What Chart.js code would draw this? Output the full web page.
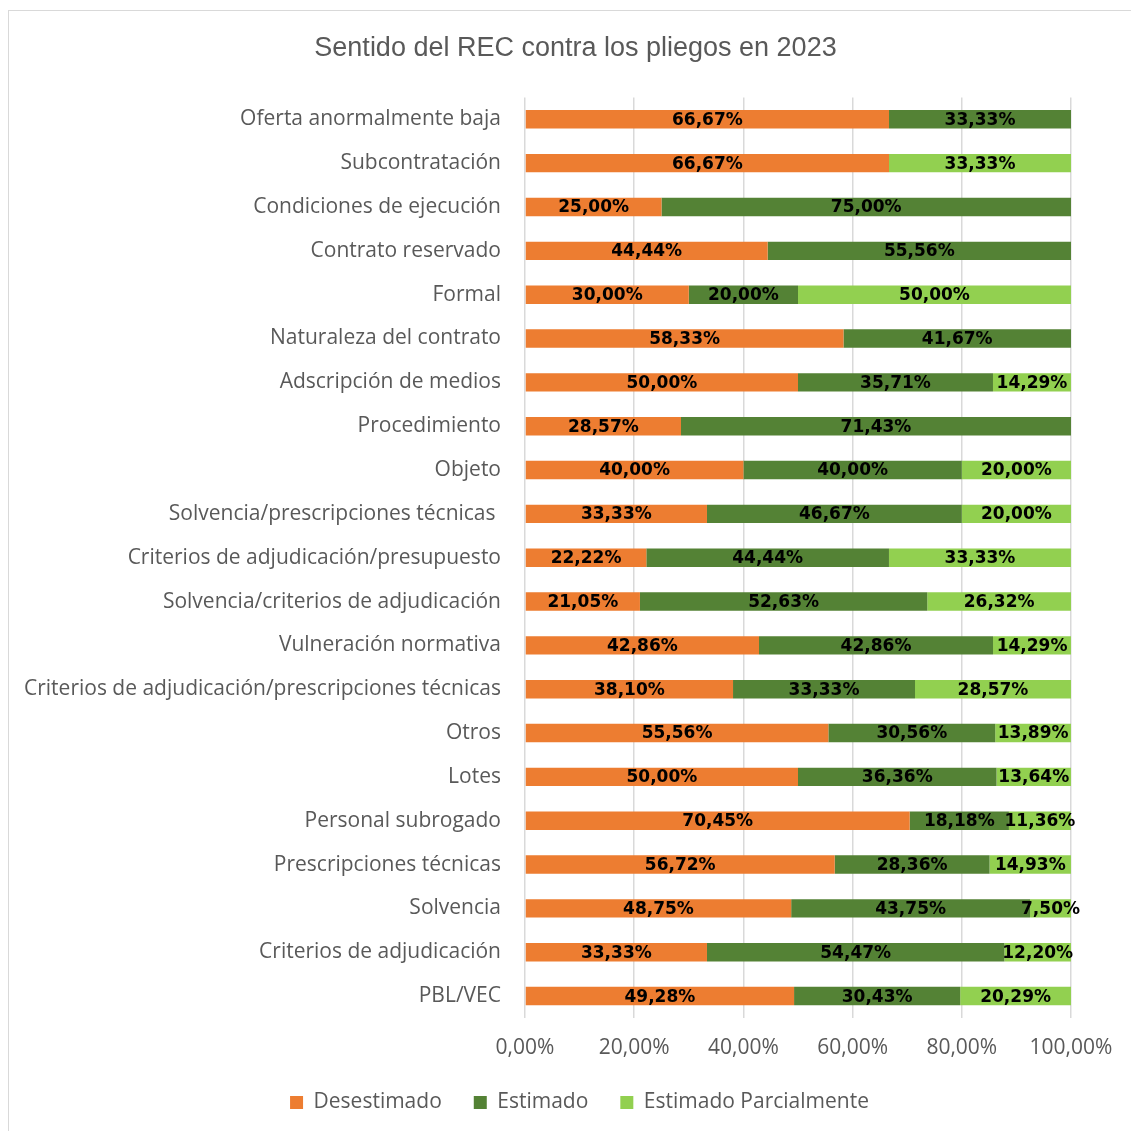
<!DOCTYPE html>
<html>
<head>
<meta charset="utf-8">
<script src="https://cdn.jsdelivr.net/npm/chart.js@4"></script>
<style>
    body { margin: 0; background: #fff; }
    #frame { position: absolute; left: 8px; top: 10px; width: 1200px; height: 1200px; border: 1px solid #d9d9d9; }
    #wrap { position: absolute; left: 0; top: 0; width: 1131px; height: 1131px; }
</style>
</head>
<body>
<div id="frame"></div>
<div id="wrap"><canvas id="recChart"></canvas></div>
<script>
// 数据
const categories = [
    "Oferta anormalmente baja",
    "Subcontratación",
    "Condiciones de ejecución",
    "Contrato reservado",
    "Formal",
    "Naturaleza del contrato",
    "Adscripción de medios",
    "Procedimiento",
    "Objeto",
    "Solvencia/prescripciones técnicas ",
    "Criterios de adjudicación/presupuesto",
    "Solvencia/criterios de adjudicación",
    "Vulneración normativa",
    "Criterios de adjudicación/prescripciones técnicas",
    "Otros",
    "Lotes",
    "Personal subrogado",
    "Prescripciones técnicas",
    "Solvencia",
    "Criterios de adjudicación",
    "PBL/VEC",
];
const desestimado = [66.67, 66.67, 25.00, 44.44, 30.00, 58.33, 50.00, 28.57, 40.00, 33.33, 22.22, 21.05, 42.86, 38.10, 55.56, 50.00, 70.45, 56.72, 48.75, 33.33, 49.28];
const estimado = [33.33, 0, 75.00, 55.56, 20.00, 41.67, 35.71, 71.43, 40.00, 46.67, 44.44, 52.63, 42.86, 33.33, 30.56, 36.36, 18.18, 28.36, 43.75, 54.47, 30.43];
const estimadoParcial = [0, 33.33, 0, 0, 50.00, 0, 14.29, 0, 20.00, 20.00, 33.33, 26.32, 14.29, 28.57, 13.89, 13.64, 11.36, 14.93, 7.50, 12.20, 20.29];
const xTicks = [0, 20, 40, 60, 80, 100];

const fmtPct = (v) => v.toFixed(2).replace(".", ",") + "%";

// 数据标签
const barLabels = {
    id: "barLabels",
    afterDatasetsDraw(chart) {
        const ctx = chart.ctx;
        ctx.save();
        ctx.font = "bold 17px 'DejaVu Sans'";
        ctx.fillStyle = "#000";
        ctx.textAlign = "center";
        ctx.textBaseline = "middle";
        chart.data.datasets.forEach((ds, i) => {
            const meta = chart.getDatasetMeta(i);
            meta.data.forEach((bar, j) => {
                const v = ds.data[j];
                if (!v) return;
                ctx.fillText(fmtPct(v), (bar.x + bar.base) / 2, bar.y + 1);
            });
        });
        ctx.restore();
    },
};

// 标题和图例整体右移（居中于外框）
const shiftBlocks = {
    id: "shiftBlocks",
    afterLayout(chart) {
        if (chart.titleBlock) {
            chart.titleBlock.left += 40;
            chart.titleBlock.right += 40;
        }
        if (chart.legend) {
            chart.legend.left += 44;
            chart.legend.right += 44;
        }
    },
};

const ctx = document.getElementById("recChart").getContext("2d");
new Chart(ctx, {
    type: "bar",
    data: {
        labels: categories,
        datasets: [
            { label: "Desestimado", data: desestimado, backgroundColor: "#ED7D31" },
            { label: "Estimado", data: estimado, backgroundColor: "#548235" },
            { label: "Estimado Parcialmente", data: estimadoParcial, backgroundColor: "#92D050" },
        ],
    },
    options: {
        indexAxis: "y",
        responsive: true,
        maintainAspectRatio: false,
        animation: false,
        categoryPercentage: 1,
        barPercentage: 0.42,
        layout: { padding: { left: 0, right: 60, top: 0, bottom: 8 } },
        scales: {
            x: {
                stacked: true,
                min: 0,
                max: 100,
                afterBuildTicks: (scale) => { scale.ticks = xTicks.map((v) => ({ value: v })); },
                afterFit: (scale) => { scale.height = 42; },
                grid: { color: "#d9d9d9", lineWidth: 1.5, drawTicks: false },
                border: { display: false },
                ticks: {
                    padding: 17,
                    color: "#595959",
                    font: { family: "'Open Sans'", size: 21 },
                    callback: (v) => fmtPct(v),
                },
            },
            y: {
                stacked: true,
                afterFit: (scale) => { scale.width = 525; },
                grid: { display: false },
                border: { display: false },
                ticks: {
                    padding: 16,
                    color: "#595959",
                    font: { family: "'Open Sans'", size: 21 },
                },
            },
        },
        plugins: {
            title: {
                display: true,
                text: "Sentido del REC contra los pliegos en 2023",
                color: "#595959",
                font: { family: "'Liberation Sans'", size: 27, weight: "normal" },
                padding: { top: 32, bottom: 33 },
            },
            legend: {
                position: "bottom",
                labels: {
                    boxWidth: 13,
                    boxHeight: 13,
                    padding: 32,
                    color: "#595959",
                    font: { family: "'Open Sans'", size: 21 },
                },
            },
            tooltip: { enabled: false },
        },
    },
    plugins: [barLabels, shiftBlocks],
});
</script>
</body>
</html>
